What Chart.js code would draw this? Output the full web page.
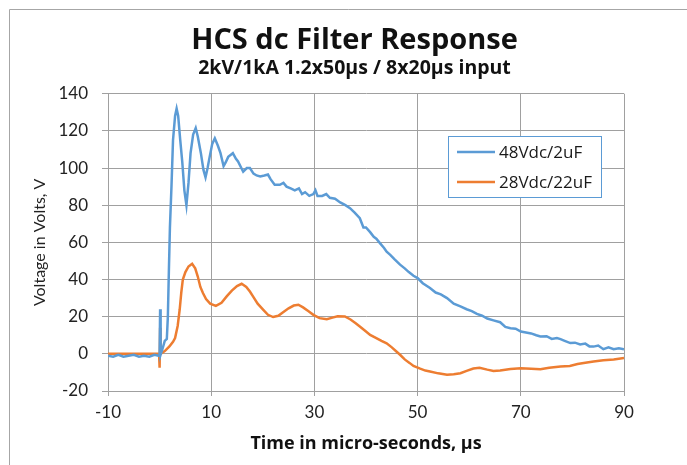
<!DOCTYPE html>
<html>
<head>
<meta charset="utf-8">
<script src="https://cdn.jsdelivr.net/npm/chart.js@4/dist/chart.umd.min.js"></script>
<style>
  html, body { margin: 0; padding: 0; background: #fff; }
  #wrap { width: 687px; height: 465px; position: relative; }
</style>
</head>
<body>
<div id="wrap"><canvas id="chart" width="687" height="465"></canvas></div>
<script>
"use strict";

// 48Vdc/2uF trace (time in us, volts)
const blueT = [-10, -9, -8, -7, -6, -5, -4, -3, -2, -1, -0.2, 0, 0.1, 0.2, 0.6, 1.0, 1.4, 1.6, 1.8, 2.0, 2.3, 2.6, 3.0, 3.3, 3.6, 4.0, 4.4, 4.8, 5.2, 5.6, 6.0, 6.5, 7.0, 7.4, 8.0, 8.5, 8.9, 9.3, 9.7, 10.2, 10.7, 11.3, 11.8, 12.4, 12.8, 13.3, 14.2, 14.8, 15.2, 16.2, 16.9, 17.5, 18.2, 18.8, 19.5, 20.3, 21.0, 21.5, 22.3, 23.3, 24.0, 24.6, 25.4, 26.2, 27.0, 27.6, 28.2, 29.0, 29.8, 30.2, 30.6, 31.5, 32.3, 33.0, 34.0, 35.0, 36.0, 36.9, 37.8, 38.8, 39.5, 40.0, 40.8, 41.5, 42.0, 42.7, 43.5, 44.0, 44.7, 45.5, 46.6, 47.5, 48.3, 49.2, 50.0, 51.0, 52.4, 53.5, 54.5, 55.7, 57.0, 58.3, 59.5, 60.5, 61.5, 62.5, 63.5, 64.7, 66.0, 67.0, 68.0, 69.0, 70.0, 71.0, 72.0, 73.0, 73.8, 75.0, 76.0, 77.0, 77.7, 78.5, 79.6, 80.5, 81.5, 82.5, 83.3, 84.1, 85.0, 86.0, 87.0, 88.0, 89.0, 90.0];
const blueV = [-1, -1.5, -0.5, -1.5, -1, -0.5, -1.5, -1, -1.5, -0.5, -1, -1, 24, -0.5, 3, 7, 8, 20, 45, 68, 90, 115, 128, 132, 128, 115, 103, 88, 80, 92, 108, 118, 121.5, 117, 108, 99, 95, 100, 106, 113, 116, 112, 108, 101, 103, 106, 108, 105, 103.5, 98, 100, 100, 97, 96, 95.5, 96, 96.5, 94, 91, 91, 92, 90, 89, 88, 89, 86, 87, 85, 86, 88, 85, 85, 86, 84, 83.5, 81.5, 80, 78.4, 76, 73, 68, 68, 65.5, 63, 62, 59.6, 57, 55, 53.3, 51, 48, 46, 44, 42, 40.8, 38, 35.4, 33, 32, 30, 27, 25.5, 24, 23, 21.5, 20.5, 19, 18, 17, 14.5, 13.8, 13.5, 12, 11.5, 11, 10, 9.3, 9.5, 8, 8.5, 7.9, 7, 5.8, 6, 5, 5.5, 4, 3.9, 4.5, 2.5, 3.5, 2.5, 3, 2.5];

// 28Vdc/22uF trace
const orangeT = [-10, -5, -0.1, 0, 0.1, 0.2, 1.0, 1.9, 2.6, 3.0, 3.5, 3.9, 4.2, 4.5, 5.0, 5.6, 6.3, 6.9, 7.4, 7.9, 8.4, 9.0, 9.8, 10.9, 12.0, 13.0, 14.0, 15.0, 15.9, 16.8, 17.5, 18.1, 19.0, 20.1, 21.0, 22.0, 23.0, 24.0, 25.0, 26.0, 26.9, 27.8, 28.8, 29.8, 31.0, 32.4, 33.5, 34.5, 35.9, 37.0, 38.0, 38.8, 40.0, 40.8, 42.0, 43.0, 44.0, 45.0, 46.0, 46.6, 47.5, 48.5, 49.2, 50.5, 51.5, 52.4, 54.0, 55.7, 57.0, 58.3, 59.5, 60.8, 62.0, 63.5, 64.7, 66.0, 68.0, 70.0, 72.0, 73.8, 75.5, 77.7, 79.5, 81.0, 82.5, 84.1, 86.0, 88.0, 90.0];
const orangeV = [0, 0, 0, -7.5, 14, 0, 1.5, 4, 6.5, 8.5, 15, 24, 33, 40, 44, 47, 48.5, 46, 41.6, 36, 32.7, 29.5, 27, 25.8, 27.5, 30.9, 34, 36.5, 37.7, 36, 33.5, 30.9, 27, 23.7, 21, 19.8, 20.5, 22.5, 24.5, 26, 26.4, 25, 23, 21, 19.2, 18.6, 19.5, 20.2, 20.1, 18.5, 16.5, 14.7, 12, 10.2, 8.5, 7, 5.7, 3.5, 1, -0.5, -3, -5, -6.5, -8, -9, -9.5, -10.5, -11.3, -11, -10.4, -9.2, -7.9, -7.5, -8.5, -9.2, -9, -8.2, -7.7, -8, -8.3, -7.5, -6.8, -6.5, -5.5, -4.8, -4.1, -3.5, -3, -2.3];

const seriesNames = ["48Vdc/2uF", "28Vdc/22uF"];
const seriesColors = ["#5b9bd5", "#ed7d31"];
const xTickValues = [-10, 10, 30, 50, 70, 90];

const FONT = "Lato, 'Open Sans', sans-serif";
const BOLD_FONT = "'Open Sans', Lato, sans-serif";
const GRID = "#a0a0a0";

function toPoints(ts, vs) {
  return ts.map((t, i) => ({ x: t, y: vs[i] }));
}

// grey frame round the chart (left and top edges only show)
const framePlugin = {
  id: "frame",
  beforeDraw(chart) {
    const c = chart.ctx;
    c.save();
    c.fillStyle = "#fff";
    c.fillRect(0, 0, chart.width, chart.height);
    c.strokeStyle = "#a6a6a6";
    c.lineWidth = 1;
    c.beginPath();
    c.moveTo(9.5, chart.height);
    c.lineTo(9.5, 9.5);
    c.lineTo(chart.width, 9.5);
    c.stroke();
    c.restore();
  },
};

// legend box drawn inside the plot area
const boxLegend = {
  id: "boxLegend",
  afterDraw(chart) {
    const c = chart.ctx;
    const x0 = 448.5, y0 = 136.5, w = 153, h = 61;
    c.save();
    c.fillStyle = "#fff";
    c.fillRect(x0, y0, w, h);
    c.strokeStyle = "#5b9bd5";
    c.lineWidth = 1;
    c.strokeRect(x0, y0, w, h);
    c.font = "17px " + BOLD_FONT;
    c.textBaseline = "middle";
    chart.data.datasets.forEach((ds, i) => {
      const y = 152 + i * 30;
      c.strokeStyle = ds.borderColor;
      c.lineWidth = 2.5;
      c.beginPath();
      c.moveTo(457, y);
      c.lineTo(495, y);
      c.stroke();
      c.fillStyle = "#1a1a1a";
      c.fillText(ds.label, 499, y + 1);
    });
    c.restore();
  },
};

const ctx = document.getElementById("chart").getContext("2d");
new Chart(ctx, {
  type: "line",
  data: {
    datasets: [
      {
        label: seriesNames[0],
        data: toPoints(blueT, blueV),
        borderColor: seriesColors[0],
        borderWidth: 2.5,
        pointRadius: 0,
        tension: 0,
      },
      {
        label: seriesNames[1],
        data: toPoints(orangeT, orangeV),
        borderColor: seriesColors[1],
        borderWidth: 2.5,
        pointRadius: 0,
        tension: 0,
      },
    ],
  },
  options: {
    responsive: false,
    animation: false,
    // left padding shifts the titles' centre to match the original chart object
    layout: { padding: { left: 22, right: 0, top: 0, bottom: 0 } },
    scales: {
      x: {
        type: "linear",
        min: -10,
        max: 90,
        afterBuildTicks: (s) => { s.ticks = xTickValues.map((v) => ({ value: v })); },
        afterFit: (s) => { s.height = 74; },
        border: { color: GRID, width: 1 },
        grid: { color: GRID, tickLength: 5, drawTicks: true },
        ticks: { color: "#222", font: { family: FONT, size: 17 }, padding: 6, maxRotation: 0 },
        title: {
          display: true,
          text: "Time in micro-seconds, µs",
          color: "#111",
          font: { family: BOLD_FONT, size: 18, weight: "bold" },
          padding: { top: 0, bottom: 10 },
        },
      },
      y: {
        min: -20,
        max: 140,
        ticks: { stepSize: 20, color: "#222", font: { family: FONT, size: 17 }, padding: 14 },
        afterFit: (s) => { s.width = 86; },
        border: { color: GRID, width: 1 },
        grid: { color: GRID, tickLength: 6, drawTicks: true },
        title: {
          display: true,
          text: "Voltage in Volts, V",
          color: "#222",
          font: { family: FONT, size: 16 },
          padding: { top: 8, bottom: 0 },
        },
      },
      // empty right-hand axis, only keeps the plot area off the right edge
      yPad: {
        position: "right",
        min: -20,
        max: 140,
        afterFit: (s) => { s.width = 63; },
        grid: { display: false },
        border: { display: false },
        ticks: { display: false },
      },
    },
    plugins: {
      legend: { display: false },
      tooltip: { enabled: false },
      title: {
        display: true,
        text: "HCS dc Filter Response",
        color: "#111",
        font: { family: BOLD_FONT, size: 29, weight: "bold" },
        padding: { top: 23.5, bottom: 0 },
      },
      subtitle: {
        display: true,
        text: "2kV/1kA 1.2x50µs / 8x20µs input",
        color: "#111",
        font: { family: BOLD_FONT, size: 19.5, weight: "bold" },
        padding: { top: -2, bottom: 14 },
      },
    },
  },
  plugins: [framePlugin, boxLegend],
});
</script>
</body>
</html>
